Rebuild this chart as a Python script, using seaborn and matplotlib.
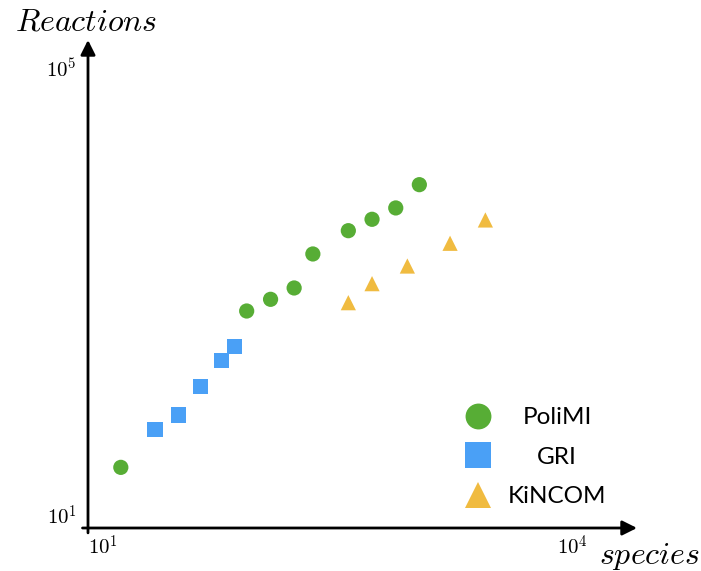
import numpy as np
import pandas as pd
import matplotlib
matplotlib.use('Agg')
import matplotlib.pyplot as plt
import seaborn as sns

# 数据：species / reactions
polimi_species = [13, 83, 118, 167, 220, 371, 526, 746, 1056]
polimi_reactions = [26.7, 669, 851, 1075, 2166, 3500, 4425, 5590, 9030]
gri_species = [21.5, 30.5, 42, 57, 69]
gri_reactions = [58.5, 78.5, 141, 242, 321]
kincom_species = [371, 526, 885, 1660, 2793]
kincom_reactions = [794, 1175, 1690, 2700, 4365]

mechs = ['PoliMI', 'GRI', 'KiNCOM']
colors = {'PoliMI': '#57ad35', 'GRI': '#4aa0f6', 'KiNCOM': '#f0bb40'}
markers = {'PoliMI': 'o', 'GRI': 's', 'KiNCOM': '^'}

df = pd.concat([
    pd.DataFrame({'species': polimi_species, 'reactions': polimi_reactions, 'mech': 'PoliMI'}),
    pd.DataFrame({'species': gri_species, 'reactions': gri_reactions, 'mech': 'GRI'}),
    pd.DataFrame({'species': kincom_species, 'reactions': kincom_reactions, 'mech': 'KiNCOM'}),
])

sns.set_style('white')
plt.rcParams['mathtext.fontset'] = 'cm'

fig = plt.figure(figsize=(7.01, 5.71), dpi=100)
ax = fig.add_axes([88/701, 1-528/571, (637-88)/701, (528-40)/571])

sns.scatterplot(data=df, x='species', y='reactions', hue='mech', style='mech',
                hue_order=mechs, style_order=mechs, palette=colors, markers=markers,
                s=120, linewidth=0, ax=ax)

ax.set_xscale('log')
ax.set_yscale('log')
ax.set_xlim(10**0.904, 10**4.416)
ax.set_ylim(10**0.884, 10**5.25)

for s in ax.spines.values():
    s.set_visible(False)
ax.grid(False)
ax.minorticks_off()
ax.set_xticks([10, 1e4])
ax.set_xticklabels([r'$10^1$', r'$10^4$'])
ax.set_yticks([10, 1e5])
ax.set_yticklabels([r'$10^1$', r'$10^5$'])
ax.tick_params(length=0, labelsize=15, labelcolor='black')
ax.tick_params(axis='x', pad=5)
ax.tick_params(axis='y', pad=8)
ax.set_xlabel(None)
ax.set_ylabel(None)

# 坐标轴箭头
arrow = dict(arrowstyle='-|>', color='black', lw=2, mutation_scale=22, shrinkA=0, shrinkB=0)
ax.annotate('', xy=(1.0, 0), xytext=(-0.01, 0), xycoords='axes fraction', arrowprops=arrow)
ax.annotate('', xy=(0, 1.0), xytext=(0, -0.01), xycoords='axes fraction', arrowprops=arrow)

fig.text(15/701, 1-22/571, r'$Reactions$', fontsize=23, ha='left', va='center', color='black')
fig.text(700/701, 1-556/571, r'$species$', fontsize=23, ha='right', va='center', color='black')

leg = ax.legend(loc='center', bbox_to_anchor=(0.805, 0.145), frameon=False,
                markerscale=1.7, labelspacing=0.76, handletextpad=0.25,
                prop={'family': 'Lato', 'size': 17.5})
for t in leg.get_texts():
    t.set_color('black')

# 图例文字居中
fig.canvas.draw()
r = fig.canvas.get_renderer()
ws = [t.get_window_extent(r).width for t in leg.get_texts()]
wmax = max(ws)
for t, w in zip(leg.get_texts(), ws):
    t.set_x((wmax - w) / 2)

fig.savefig('out.png', dpi=100)
